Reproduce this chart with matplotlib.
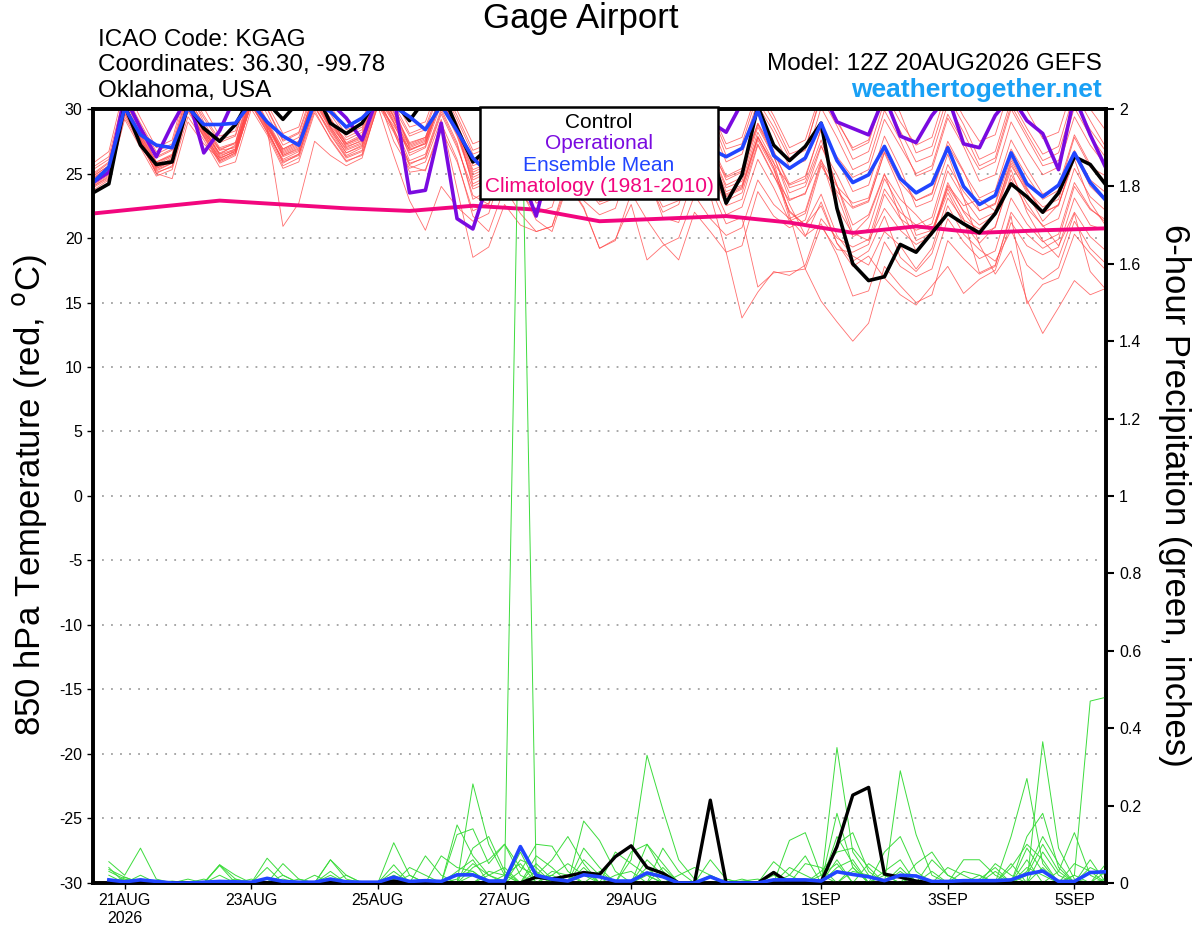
import matplotlib
matplotlib.use("Agg")
import matplotlib.pyplot as plt
import pandas as pd
from matplotlib.patches import Rectangle
from matplotlib.ticker import FormatStrFormatter

plt.rcParams["font.family"] = ["Liberation Sans", "DejaVu Sans"]
plt.rcParams["axes.unicode_minus"] = False

# tiempos: cada 6 h desde 12Z 20AUG2026
times = pd.date_range("2026-08-20 12:00", periods=65, freq="6h")
precip_times = times[1:]
clim_times = times[::4]

# temperatura 850 hPa (C)
ctrl_temp = [23.5, 24.2, 30.3, 27.2, 25.7, 25.9, 30.3, 28.5, 27.5, 28.8,
             31.0, 30.5, 29.2, 30.6, 31.5, 28.9, 28.1, 28.9, 31.0, 30.6,
             29.1, 30.8, 31.5, 28.5, 25.9, 27.0, 29.0, 28.0, 27.0, 28.0,
             30.5, 28.0, 27.0, 27.5, 30.5, 28.0, 27.0, 28.0, 30.5, 27.0,
             22.7, 24.9, 30.2, 27.2, 26.0, 27.1, 28.9, 22.3, 18.0, 16.7,
             17.0, 19.5, 18.9, 20.4, 21.9, 21.1, 20.4, 21.9, 24.2, 23.2,
             22.0, 23.5, 26.3, 25.7, 24.1]
oper_temp = [24.3, 25.1, 31.0, 28.5, 26.3, 28.8, 31.0, 26.6, 28.3, 31.0,
             31.5, 31.0, 30.5, 31.0, 31.5, 30.5, 29.3, 27.6, 31.0, 31.0,
             23.5, 23.7, 28.9, 21.5, 20.7, 24.5, 27.0, 25.0, 21.7, 26.5,
             29.0, 27.0, 26.0, 27.0, 29.5, 27.5, 26.5, 27.0, 30.5, 29.0,
             28.2, 30.5, 31.0, 30.5, 31.0, 31.0, 31.5, 29.0, 28.5, 28.0,
             31.0, 27.9, 27.4, 29.5, 31.0, 27.3, 27.0, 29.5, 31.0, 29.1,
             28.1, 25.3, 31.0, 28.0, 25.4]
mean_temp = [24.3, 25.5, 30.1, 28.0, 27.2, 27.0, 30.1, 28.8, 28.8, 28.9,
             30.5, 29.0, 27.9, 27.2, 30.5, 29.8, 28.6, 29.3, 30.5, 30.2,
             29.4, 28.4, 30.3, 28.3, 26.2, 25.0, 27.5, 26.5, 25.5, 26.5,
             28.5, 26.5, 25.5, 26.0, 28.0, 26.0, 25.0, 25.5, 28.0, 26.9,
             26.3, 26.95, 29.9, 26.4, 25.4, 26.2, 28.9, 26.0, 24.3, 24.9,
             27.1, 24.6, 23.5, 24.2, 27.0, 24.0, 22.6, 23.3, 26.6, 24.2,
             23.2, 24.1, 26.6, 24.3, 22.9]
clim_temp = [21.9, 22.4, 22.9, 22.6, 22.3, 22.1, 22.5, 22.2, 21.3,
             21.5, 21.7, 21.2, 20.4, 20.9, 20.4, 20.6, 20.75]

# miembros del ensamble (temperatura)
ens_temp = [
    [24.8, 25.6, 31.0, 28.4, 26.2, 26.8, 31.5, 29.0, 27.0, 27.4, 31.8, 29.6, 27.2, 27.8, 31.2, 29.0,
     27.6, 28.2, 32.0, 30.1, 27.9, 28.4, 31.6, 29.2, 26.5, 27.0, 30.5, 28.3, 26.0, 26.6, 30.8, 28.8,
     26.8, 27.3, 31.4, 29.3, 27.0, 27.5, 31.7, 29.5, 26.4, 26.9, 30.6, 28.6, 26.2, 26.8, 31.2, 29.0,
     27.0, 27.6, 31.8, 29.7, 26.6, 27.1, 31.0, 28.8, 26.1, 26.7, 30.7, 28.5, 26.5, 27.1, 31.3, 29.1, 27.0],
    [25.3, 26.1, 30.4, 28.0, 25.7, 26.3, 30.2, 28.6, 26.5, 27.2, 30.9, 28.9, 26.9, 27.5, 31.0, 29.3,
     27.3, 27.8, 31.4, 29.4, 26.8, 27.4, 30.6, 28.2, 24.9, 25.5, 29.1, 27.0, 25.3, 26.0, 29.8, 27.7,
     25.9, 26.4, 30.3, 28.1, 25.5, 26.1, 29.4, 27.4, 24.8, 25.4, 28.9, 26.8, 23.9, 24.3, 27.6, 24.1,
     20.4, 19.8, 22.3, 20.6, 19.5, 20.2, 24.0, 22.1, 21.0, 21.8, 25.6, 23.7, 22.4, 23.0, 26.8, 24.5, 23.5],
    [24.0, 24.8, 29.6, 27.3, 25.1, 25.5, 29.8, 27.9, 26.0, 26.6, 30.4, 28.2, 26.1, 26.7, 30.5, 28.4,
     26.6, 27.2, 30.9, 27.5, 25.4, 25.9, 29.2, 23.8, 18.5, 19.3, 22.6, 21.0, 20.5, 20.9, 24.8, 22.9,
     21.8, 22.3, 26.0, 24.1, 22.9, 23.5, 27.4, 25.3, 23.3, 23.9, 27.8, 25.8, 24.1, 24.6, 28.5, 26.3,
     24.7, 25.3, 29.2, 27.1, 25.0, 25.6, 29.6, 27.4, 25.3, 25.9, 30.0, 27.8, 25.6, 26.0, 30.1, 27.9, 26.2],
    [24.4, 25.0, 29.9, 27.6, 25.0, 24.6, 29.0, 27.3, 26.1, 26.8, 30.9, 28.5, 20.9, 22.7, 27.5, 26.4,
     25.6, 26.2, 30.4, 28.7, 26.9, 27.3, 31.0, 28.6, 24.0, 24.6, 28.9, 26.6, 23.9, 24.3, 28.1, 26.0,
     23.1, 23.6, 27.2, 24.9, 21.6, 21.2, 25.0, 23.3, 18.9, 13.8, 15.8, 17.4, 17.1, 17.9, 21.5, 20.0,
     19.3, 19.9, 23.8, 22.0, 21.0, 21.6, 25.7, 23.6, 22.1, 22.7, 26.9, 24.8, 23.0, 23.7, 27.8, 25.5, 24.8],
    [24.1, 24.9, 30.2, 27.9, 25.6, 26.1, 30.7, 28.3, 26.3, 26.9, 31.2, 28.8, 26.7, 27.3, 31.5, 29.1,
     27.0, 27.6, 31.9, 29.8, 27.4, 27.8, 31.2, 28.6, 25.6, 26.1, 29.9, 27.6, 24.8, 25.4, 29.3, 27.1,
     25.3, 25.8, 29.7, 27.5, 24.6, 25.2, 28.8, 26.7, 23.9, 24.4, 28.2, 25.9, 21.8, 17.6, 15.1, 13.5,
     12.0, 13.4, 17.8, 16.3, 15.0, 15.6, 19.8, 18.4, 17.2, 17.8, 22.0, 20.3, 19.2, 19.9, 24.0, 22.2, 21.4],
    [24.6, 25.3, 30.1, 27.8, 25.4, 26.0, 30.4, 28.2, 26.6, 27.1, 31.0, 28.9, 26.4, 27.0, 30.8, 28.6,
     26.9, 27.4, 31.3, 29.2, 27.1, 27.6, 31.0, 28.4, 25.1, 25.7, 29.5, 27.3, 25.0, 25.5, 29.6, 27.4,
     25.6, 26.2, 30.2, 27.9, 25.2, 25.7, 29.4, 27.2, 24.5, 25.1, 28.9, 26.6, 24.2, 24.8, 28.4, 26.2,
     23.6, 24.1, 27.9, 25.4, 22.4, 22.9, 26.5, 23.1, 19.5, 17.2, 19.0, 15.2, 12.6, 14.6, 16.7, 15.6, 16.1],
    [23.7, 24.5, 29.2, 27.0, 24.8, 25.3, 29.4, 27.6, 25.5, 25.9, 30.0, 28.0, 25.4, 25.9, 29.7, 27.7,
     26.0, 26.4, 30.3, 28.2, 25.6, 25.2, 28.9, 26.1, 21.7, 20.5, 23.9, 21.9, 20.5, 20.9, 24.3, 22.4,
     19.2, 19.8, 23.5, 21.4, 19.6, 18.3, 22.0, 20.5, 18.9, 19.4, 23.6, 21.7, 20.8, 21.4, 25.6, 23.6,
     22.3, 22.8, 26.7, 24.3, 22.9, 23.4, 27.2, 25.1, 23.1, 23.7, 27.6, 25.4, 23.4, 24.0, 28.0, 25.7, 24.3],
    [25.8, 26.7, 31.8, 29.3, 27.0, 27.6, 32.2, 30.1, 27.9, 28.3, 32.6, 30.4, 28.1, 28.6, 32.5, 30.2,
     28.4, 28.9, 33.0, 30.8, 28.6, 29.0, 32.4, 29.9, 27.3, 27.8, 31.6, 29.4, 27.0, 27.5, 31.4, 29.3,
     27.6, 28.0, 31.9, 29.9, 27.8, 28.3, 32.1, 30.0, 27.3, 27.8, 31.6, 29.5, 27.0, 27.6, 31.4, 29.2,
     26.8, 27.4, 31.3, 29.0, 27.2, 27.8, 31.7, 29.4, 27.5, 28.0, 32.0, 29.9, 27.7, 28.2, 32.1, 30.0, 28.3],
    [24.9, 25.8, 30.6, 28.3, 25.9, 26.4, 30.0, 28.0, 26.2, 26.7, 30.6, 28.5, 25.8, 26.5, 30.1, 28.3,
     26.4, 27.0, 30.9, 28.9, 26.0, 26.5, 30.0, 27.4, 23.0, 23.7, 27.8, 25.6, 22.7, 23.3, 27.0, 25.2,
     23.4, 23.9, 27.9, 25.8, 23.8, 24.2, 28.2, 26.1, 23.4, 24.0, 27.8, 25.5, 21.5, 20.1, 22.8, 19.6,
     18.2, 19.0, 21.7, 18.5, 17.4, 18.8, 22.5, 20.3, 19.1, 18.2, 20.6, 17.9, 16.8, 17.7, 21.3, 19.2, 18.0],
    [24.3, 25.0, 29.8, 27.5, 25.3, 25.8, 30.0, 27.8, 25.8, 26.4, 30.5, 28.4, 26.0, 26.5, 30.3, 28.1,
     26.3, 26.8, 30.7, 28.5, 25.7, 26.3, 29.8, 27.2, 23.3, 22.6, 25.9, 23.8, 21.4, 20.5, 24.2, 22.3,
     19.2, 19.9, 22.6, 18.3, 19.4, 20.0, 23.3, 21.5, 20.2, 20.8, 24.5, 22.6, 21.5, 22.1, 26.0, 24.0,
     22.7, 23.1, 27.0, 24.8, 22.9, 23.5, 27.5, 25.2, 22.1, 22.6, 26.2, 23.9, 21.9, 22.6, 26.4, 24.2, 23.0],
    [24.7, 25.4, 30.3, 28.0, 25.8, 26.4, 31.0, 28.7, 26.9, 27.3, 31.3, 29.0, 26.6, 27.2, 30.9, 28.7,
     27.2, 27.7, 31.6, 29.4, 26.4, 27.0, 30.4, 27.9, 24.5, 25.1, 28.7, 26.4, 24.3, 24.9, 28.6, 26.5,
     24.9, 25.3, 29.1, 26.9, 24.2, 24.7, 28.3, 26.0, 23.2, 23.8, 27.6, 25.3, 22.0, 21.0, 22.5, 19.6,
     17.8, 18.6, 16.9, 15.6, 14.8, 16.3, 17.8, 15.7, 16.8, 17.5, 21.2, 19.4, 18.7, 19.3, 23.1, 21.0, 20.6],
    [25.0, 25.9, 30.9, 28.7, 26.5, 27.1, 31.3, 29.3, 27.4, 27.9, 31.9, 30.0, 27.5, 28.1, 31.5, 29.6,
     27.8, 28.4, 32.3, 30.2, 27.0, 27.5, 31.1, 28.8, 25.9, 26.4, 30.2, 28.1, 25.6, 26.2, 30.3, 28.2,
     26.4, 26.9, 30.9, 28.8, 26.6, 27.0, 31.2, 29.0, 25.9, 26.5, 30.3, 28.2, 25.5, 26.0, 30.1, 27.8,
     25.3, 25.9, 29.9, 27.6, 24.8, 25.3, 29.3, 27.1, 24.4, 24.9, 29.0, 26.8, 24.9, 25.5, 29.4, 27.2, 25.6],
    [23.9, 24.6, 29.4, 27.2, 25.2, 25.8, 30.3, 28.1, 26.2, 26.7, 30.7, 28.6, 26.3, 26.8, 30.6, 28.5,
     26.6, 27.1, 31.0, 28.3, 25.1, 25.3, 28.4, 25.9, 22.1, 22.7, 26.2, 24.0, 22.9, 23.5, 27.4, 25.5,
     24.0, 24.5, 28.6, 26.3, 24.7, 25.2, 29.0, 26.8, 24.1, 24.7, 28.6, 26.3, 23.5, 24.0, 27.2, 24.1,
     21.0, 21.8, 25.0, 21.6, 19.0, 20.3, 24.1, 22.5, 23.0, 22.1, 25.8, 23.5, 21.3, 22.6, 26.1, 22.8, 20.9],
    [24.2, 25.2, 30.0, 27.7, 25.5, 26.0, 30.6, 28.4, 26.8, 27.0, 31.1, 28.7, 26.5, 27.1, 31.0, 28.9,
     27.1, 27.5, 31.5, 29.0, 26.6, 27.1, 30.8, 28.3, 24.2, 24.8, 28.4, 26.2, 23.6, 24.1, 28.0, 25.9,
     24.3, 24.8, 28.8, 26.5, 23.6, 24.0, 27.6, 25.4, 22.5, 23.0, 27.2, 24.8, 22.9, 23.5, 26.1, 22.4,
     20.3, 21.6, 24.9, 23.0, 21.8, 20.4, 23.5, 21.1, 19.6, 20.9, 24.6, 22.3, 21.0, 19.4, 22.0, 20.1, 19.0],
    [24.5, 25.1, 30.1, 27.7, 25.5, 26.2, 30.8, 28.5, 26.4, 26.8, 30.8, 28.6, 26.8, 27.4, 31.2, 29.0,
     27.3, 27.9, 31.7, 29.5, 27.2, 27.7, 31.3, 28.9, 25.8, 26.3, 30.1, 27.9, 25.4, 26.0, 30.0, 27.8,
     25.7, 26.3, 30.0, 27.6, 24.9, 25.5, 29.3, 26.9, 24.7, 25.2, 28.8, 26.4, 23.0, 23.4, 27.1, 24.9,
     22.4, 22.9, 26.6, 23.8, 20.2, 20.6, 23.8, 21.5, 17.3, 17.9, 21.7, 14.9, 16.4, 16.9, 20.3, 18.8, 17.5],
    [24.0, 24.7, 29.7, 27.4, 25.0, 25.6, 30.1, 27.9, 25.9, 26.5, 30.4, 28.3, 25.9, 26.4, 30.2, 28.0,
     26.2, 26.7, 30.5, 28.4, 25.8, 26.2, 29.6, 27.0, 23.8, 24.3, 28.2, 25.9, 23.1, 23.7, 27.6, 25.4,
     22.8, 23.2, 26.9, 24.7, 22.0, 22.6, 26.2, 23.9, 21.1, 21.6, 16.2, 17.3, 17.4, 17.6, 20.9, 19.1,
     18.9, 19.5, 23.4, 21.5, 20.6, 21.1, 25.2, 23.1, 21.4, 22.0, 26.0, 23.8, 22.0, 22.5, 26.5, 24.0, 22.8],
    [25.5, 26.3, 31.2, 28.9, 26.7, 27.3, 31.7, 29.5, 27.6, 28.0, 32.2, 30.1, 27.6, 28.2, 31.9, 29.9,
     28.0, 28.6, 32.5, 30.4, 28.1, 28.6, 31.9, 29.5, 26.8, 27.3, 31.1, 28.9, 26.5, 27.1, 31.1, 29.0,
     27.1, 27.6, 31.6, 29.5, 27.3, 27.9, 31.9, 29.8, 26.9, 27.3, 31.2, 29.1, 26.5, 27.0, 30.9, 28.7,
     26.1, 26.7, 30.6, 28.3, 25.9, 26.4, 30.4, 28.2, 25.6, 26.2, 30.3, 28.1, 26.0, 26.6, 30.6, 28.4, 26.7],
    [24.6, 25.5, 30.4, 28.1, 25.9, 26.5, 30.5, 28.2, 26.0, 26.6, 30.3, 28.2, 25.6, 26.2, 29.9, 27.6,
     25.9, 26.5, 30.2, 26.4, 22.9, 20.6, 24.0, 22.4, 21.3, 21.9, 25.8, 23.6, 21.9, 22.4, 26.2, 24.1,
     22.6, 23.1, 27.2, 24.8, 22.4, 22.9, 26.7, 24.5, 21.8, 22.4, 26.1, 23.9, 21.3, 21.9, 25.8, 23.4,
     20.1, 20.7, 24.6, 22.4, 19.8, 20.4, 24.3, 22.0, 20.3, 20.8, 24.9, 22.7, 20.9, 21.5, 25.4, 23.2, 22.1],
    [24.8, 25.6, 30.7, 28.5, 26.3, 26.9, 31.0, 28.8, 26.8, 27.4, 31.4, 29.1, 26.9, 27.5, 31.3, 29.2,
     27.4, 28.0, 31.8, 29.7, 27.3, 27.8, 30.9, 28.0, 24.7, 25.3, 29.0, 26.9, 24.5, 25.0, 28.9, 26.7,
     24.2, 24.6, 28.4, 26.2, 23.2, 23.8, 27.4, 25.2, 22.9, 23.5, 27.3, 24.9, 22.1, 21.0, 23.4, 20.2,
     18.6, 17.9, 20.5, 19.4, 17.6, 19.2, 23.1, 21.4, 20.7, 21.8, 25.3, 22.0, 19.8, 18.5, 21.9, 17.4, 16.0],
    [24.3, 25.1, 30.0, 27.6, 25.4, 25.9, 30.4, 28.3, 26.5, 26.9, 30.8, 28.7, 26.4, 26.9, 30.7, 28.6,
     26.8, 27.3, 31.1, 29.0, 26.8, 27.3, 30.7, 28.4, 25.3, 25.8, 29.7, 27.5, 24.6, 25.2, 29.1, 27.0,
     25.2, 25.7, 29.5, 27.3, 24.3, 24.9, 28.6, 26.4, 23.6, 24.1, 27.9, 25.5, 22.6, 20.2, 21.1, 18.7,
     15.5, 15.9, 19.7, 17.8, 17.0, 17.6, 21.5, 19.7, 18.4, 19.0, 23.1, 21.1, 19.7, 20.3, 24.3, 22.3, 21.2],
]

# precipitacion en 6 h (pulgadas)
ctrl_precip = [0, 0, 0, 0, 0, 0, 0, 0, 0, 0, 0, 0, 0, 0, 0, 0,
               0, 0, 0.005, 0, 0, 0, 0, 0, 0, 0, 0, 0.015, 0.01, 0.018, 0.027, 0.022,
               0.068, 0.096, 0.04, 0.025, 0, 0, 0.214, 0, 0, 0, 0.027, 0, 0, 0.003, 0.094, 0.227,
               0.247, 0.023, 0.015, 0.005, 0, 0, 0, 0, 0, 0, 0, 0, 0, 0, 0, 0]
mean_precip = [0.008, 0.003, 0.008, 0.004, 0, 0, 0.002, 0.004, 0.003, 0.002, 0.012, 0.004, 0.002, 0.002, 0.01, 0.003,
               0.002, 0.002, 0.015, 0.004, 0.006, 0.004, 0.021, 0.021, 0.005, 0.005, 0.094, 0.02, 0.01, 0.005, 0.021, 0.016,
               0.005, 0.005, 0.026, 0.016, 0, 0, 0.016, 0, 0, 0, 0.008, 0.008, 0.008, 0.005, 0.029, 0.022,
               0.016, 0.006, 0.02, 0.018, 0.004, 0.004, 0.006, 0.006, 0.006, 0.008, 0.023, 0.031, 0.004, 0.004, 0.027, 0.029]

ens_precip = [
    [0.03, 0.01, 0, 0, 0, 0, 0, 0.047, 0.01, 0, 0, 0, 0, 0, 0.02, 0,
     0, 0, 0, 0, 0, 0, 0.01, 0.05, 0.02, 0.005, 2.25, 0.01, 0.02, 0, 0.04, 0,
     0, 0, 0.02, 0, 0, 0, 0, 0, 0, 0, 0.01, 0, 0, 0, 0.12, 0.05,
     0, 0, 0.03, 0, 0, 0, 0, 0, 0, 0, 0.04, 0.02, 0, 0, 0, 0],
    [0.055, 0.02, 0.09, 0.01, 0, 0, 0, 0, 0, 0, 0.064, 0.02, 0, 0, 0, 0,
     0, 0, 0.104, 0.02, 0, 0, 0.15, 0.07, 0.02, 0, 0.03, 0.1, 0.095, 0.03, 0, 0,
     0, 0.06, 0.33, 0.19, 0.06, 0.01, 0, 0, 0, 0, 0, 0, 0, 0, 0.35, 0.08,
     0.02, 0, 0, 0, 0, 0, 0, 0.02, 0, 0, 0, 0.365, 0.09, 0.01, 0, 0],
    [0.035, 0.015, 0, 0, 0, 0, 0, 0.047, 0.02, 0, 0, 0.05, 0.01, 0, 0.06, 0.01,
     0, 0, 0, 0, 0.07, 0.02, 0, 0.256, 0.1, 0.02, 0.05, 0, 0, 0, 0.16, 0.11,
     0.03, 0, 0, 0, 0, 0, 0.06, 0.01, 0, 0, 0, 0.11, 0.13, 0.02, 0, 0,
     0, 0, 0.29, 0.125, 0.02, 0, 0, 0, 0, 0.12, 0.27, 0.05, 0, 0.02, 0.47, 0.48],
    [0, 0, 0.02, 0, 0, 0, 0, 0, 0, 0, 0.04, 0, 0, 0, 0.03, 0,
     0, 0, 0.047, 0, 0, 0, 0.125, 0.14, 0.05, 0.1, 0.04, 0.02, 0, 0, 0.09, 0.04,
     0, 0, 0, 0.09, 0.03, 0, 0, 0, 0, 0, 0.055, 0.02, 0, 0, 0.1, 0.13,
     0.03, 0, 0, 0.02, 0, 0, 0.06, 0.06, 0.02, 0, 0.12, 0.18, 0.04, 0, 0, 0.05],
    [0.02, 0, 0, 0, 0, 0.01, 0, 0.045, 0, 0.01, 0, 0, 0, 0, 0.06, 0.02,
     0, 0, 0.02, 0, 0, 0.07, 0.04, 0.03, 0, 0.02, 0, 0.07, 0.04, 0, 0, 0,
     0.08, 0.05, 0.02, 0, 0, 0, 0, 0, 0.01, 0, 0, 0, 0.05, 0.04, 0, 0.04,
     0, 0.08, 0.12, 0.03, 0, 0, 0, 0, 0.05, 0.02, 0, 0, 0.03, 0.13, 0.02, 0],
    [0, 0.01, 0, 0, 0, 0, 0, 0, 0, 0, 0, 0.02, 0, 0, 0, 0,
     0, 0, 0, 0.02, 0, 0, 0, 0.09, 0.12, 0.03, 0, 0.02, 0.06, 0.12, 0.05, 0,
     0, 0, 0.1, 0.05, 0, 0, 0, 0.01, 0, 0, 0, 0, 0, 0.03, 0.08, 0.09,
     0.04, 0, 0, 0, 0.06, 0.02, 0, 0, 0, 0.04, 0.1, 0.06, 0, 0.02, 0, 0],
    [0, 0, 0, 0, 0, 0, 0, 0, 0, 0, 0, 0, 0, 0, 0, 0.02,
     0, 0, 0, 0, 0, 0, 0.03, 0.06, 0, 0, 0.06, 0.04, 0, 0, 0, 0.03,
     0, 0.08, 0.1, 0.03, 0, 0, 0, 0, 0, 0, 0, 0.02, 0.07, 0, 0.06, 0,
     0, 0.02, 0, 0.05, 0.08, 0.02, 0, 0, 0.03, 0, 0, 0.08, 0.02, 0, 0.04, 0.02],
    [0.01, 0, 0, 0, 0, 0, 0, 0, 0.01, 0, 0, 0, 0.01, 0, 0, 0,
     0, 0, 0, 0.04, 0.02, 0, 0, 0, 0.03, 0.02, 0, 0.05, 0.01, 0, 0.03, 0,
     0, 0, 0, 0, 0.02, 0.04, 0.02, 0, 0, 0, 0.02, 0, 0, 0, 0, 0.03,
     0.02, 0, 0.04, 0, 0, 0, 0.03, 0.02, 0, 0, 0.06, 0, 0, 0.05, 0.03, 0],
    [0, 0, 0.01, 0, 0, 0, 0.01, 0, 0, 0, 0, 0, 0, 0.02, 0, 0,
     0, 0, 0.03, 0, 0, 0, 0, 0.02, 0, 0, 0.08, 0, 0.03, 0.02, 0, 0,
     0, 0, 0.04, 0, 0, 0, 0, 0, 0.005, 0.01, 0, 0, 0, 0.02, 0.05, 0,
     0, 0.03, 0.06, 0, 0, 0.04, 0.02, 0, 0, 0, 0.03, 0.12, 0.05, 0, 0, 0],
    [0, 0, 0, 0, 0.005, 0, 0, 0, 0, 0, 0.01, 0, 0, 0, 0, 0,
     0, 0, 0, 0, 0, 0, 0, 0.04, 0.06, 0.1, 0.02, 0, 0, 0, 0.06, 0.02,
     0, 0, 0, 0.04, 0, 0, 0, 0, 0, 0, 0, 0, 0, 0, 0.04, 0.06,
     0, 0, 0, 0.02, 0, 0, 0, 0, 0, 0.05, 0, 0.04, 0, 0, 0, 0.01],
    [0, 0.015, 0, 0, 0, 0, 0, 0.02, 0, 0, 0, 0, 0, 0, 0.01, 0,
     0, 0, 0, 0, 0, 0, 0.02, 0.03, 0, 0, 0, 0.03, 0, 0, 0, 0,
     0.02, 0.03, 0, 0, 0, 0, 0.02, 0, 0, 0, 0, 0.04, 0.02, 0, 0, 0,
     0.05, 0.02, 0, 0, 0, 0, 0, 0.01, 0.04, 0, 0.09, 0.03, 0, 0, 0.06, 0],
    [0.04, 0, 0.01, 0, 0, 0, 0, 0, 0, 0, 0, 0.01, 0, 0, 0, 0,
     0, 0, 0.01, 0, 0, 0, 0, 0, 0.02, 0.04, 0, 0, 0.02, 0.05, 0.02, 0,
     0, 0, 0.06, 0.02, 0, 0, 0, 0, 0, 0, 0.03, 0, 0, 0, 0.18, 0.04,
     0, 0, 0, 0, 0.03, 0, 0, 0, 0, 0, 0.02, 0.1, 0.03, 0, 0, 0.03],
]

# etiquetas del eje x
tick_dates = pd.to_datetime(["2026-08-21", "2026-08-23", "2026-08-25", "2026-08-27",
                             "2026-08-29", "2026-09-01", "2026-09-03", "2026-09-05"])
tick_labels = ["21AUG\n2026", "23AUG", "25AUG", "27AUG", "29AUG", "1SEP", "3SEP", "5SEP"]

# colores
c_red = "#ff4a4a"
c_green = "#3ddc3d"
c_oper = "#7a0ae0"
c_mean = "#2145ff"
c_clim = "#f2067e"

fig = plt.figure(figsize=(12, 9.27), dpi=100)
ax = fig.add_axes([0.0775, 0.0475, 0.8442, 0.8349])
ax2 = ax.twinx()

# temperatura
for m in ens_temp:
  ax.plot(times, m, color=c_red, lw=0.6, alpha=0.8, zorder=2)
ax.plot(clim_times, clim_temp, color=c_clim, lw=2.8, zorder=3)
ax.plot(times, oper_temp, color=c_oper, lw=2.6, zorder=4)
ax.plot(times, ctrl_temp, color="black", lw=2.6, zorder=4)
ax.plot(times, mean_temp, color=c_mean, lw=2.6, zorder=5)

# precipitacion
for m in ens_precip:
  ax2.plot(precip_times, m, color=c_green, lw=0.7, zorder=2)
ax2.plot(precip_times, ctrl_precip, color="black", lw=2.4, zorder=4)
ax2.plot(precip_times, mean_precip, color=c_mean, lw=2.6, zorder=5)

ax.set_ylim(-30, 30)
ax.set_xlim(times[0], times[-1])
ax.set_yticks(range(-30, 31, 5))
ax2.set_ylim(0, 2)
ax2.set_yticks([i * 0.2 for i in range(11)])
ax2.yaxis.set_major_formatter(FormatStrFormatter("%g"))
ax.set_xticks(tick_dates)
ax.set_xticklabels(tick_labels)

ax.yaxis.grid(True, linestyle=(0, (1, 4)), color="#a0a0a0", lw=1.3)
ax.tick_params(axis="both", labelsize=11.5, length=4, width=1)
ax2.tick_params(axis="y", labelsize=11.5, length=6, width=1.5)
for a in (ax, ax2):
  for s in a.spines.values():
    s.set_linewidth(2.6)

# leyenda
ax2.add_patch(Rectangle((0.382, 0.884), 0.235, 0.118, transform=ax2.transAxes,
                        facecolor="white", edgecolor="black", lw=1.8, zorder=20,
                        clip_on=False))
leg_items = [("Control", "black"), ("Operational", c_oper),
             ("Ensemble Mean", c_mean), ("Climatology (1981-2010)", c_clim)]
for i, (txt, col) in enumerate(leg_items):
  ax2.text(0.4995, 0.9825 - i * 0.0275, txt, transform=ax2.transAxes, color=col,
           fontsize=15, ha="center", va="center", zorder=21)

# textos
fig.text(0.484, 0.980, "Gage Airport", fontsize=25, ha="center", va="center")
fig.text(0.082, 0.957, "ICAO Code: KGAG", fontsize=17.5, va="center")
fig.text(0.082, 0.930, "Coordinates: 36.30, -99.78", fontsize=17.5, va="center")
fig.text(0.082, 0.902, "Oklahoma, USA", fontsize=17.5, va="center")
fig.text(0.918, 0.931, "Model: 12Z 20AUG2026 GEFS", fontsize=17.5, ha="right", va="center")
fig.text(0.918, 0.903, "weathertogether.net", fontsize=19, ha="right", va="center",
         color="#19a0f5", fontweight="bold")
fig.text(0.025, 0.466, "850 hPa Temperature (red, $^\\mathrm{o}$C)", fontsize=25,
         rotation=90, ha="center", va="center")
fig.text(0.979, 0.466, "6-hour Precipitation (green, inches)", fontsize=25,
         rotation=-90, ha="center", va="center")

fig.savefig("out.png", dpi=100)
plt.close(fig)
